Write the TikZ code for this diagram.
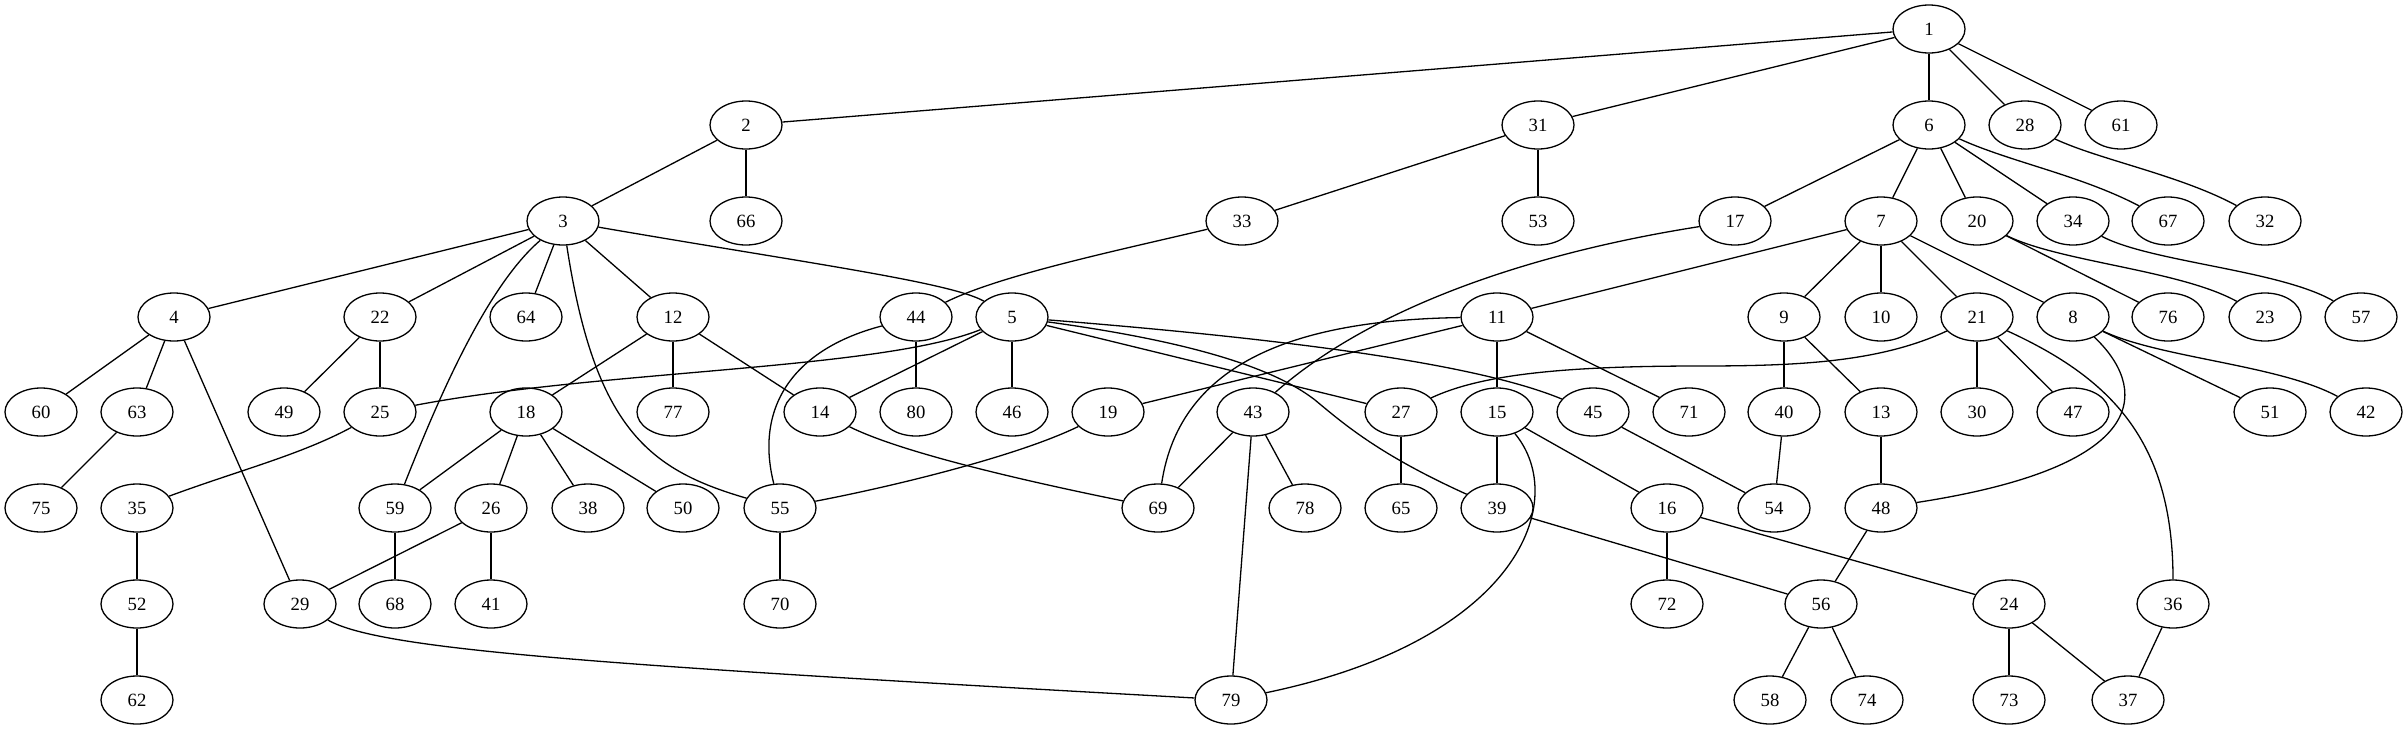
\documentclass[tikz,border=0pt]{standalone}
\usepackage{fontspec}
\setmainfont{Liberation Serif}
\usetikzlibrary{shapes.geometric}
\tikzset{
  gv/.style={ellipse, draw, line width=1.3pt, minimum width=72pt, minimum height=48pt, inner sep=0pt,
    font=\fontsize{18.7}{20}\selectfont},
  gvedge/.style={line width=1.3pt}
}
\begin{document}
\begin{tikzpicture}[x=1pt,y=-1pt]
\useasboundingbox (0,0) rectangle (2408,731);
\foreach \n/\x/\y in {
 1/1929/29,
 2/746/125, 31/1538/125, 6/1929/125, 28/2025/125, 61/2121/125,
 3/563/221, 66/746/221, 33/1242/221, 53/1538/221, 17/1735/221, 7/1881/221, 20/1977/221, 34/2073/221, 67/2168/221, 32/2265/221,
 4/174/317, 22/380/317, 64/526/317, 12/673/317, 44/916/317, 5/1012/317, 11/1497/317, 9/1784/317, 10/1881/317, 21/1977/317, 8/2073/317, 76/2168/317, 23/2265/317, 57/2361/317,
 60/41/412, 63/137/412, 49/284/412, 25/380/412, 18/526/412, 77/673/412, 14/820/412, 80/916/412, 46/1012/412, 19/1108/412, 43/1253/412, 27/1401/412, 15/1497/412, 45/1593/412, 71/1689/412, 40/1784/412, 13/1881/412, 30/1977/412, 47/2073/412, 51/2270/412, 42/2366/412,
 75/41/508, 35/137/508, 59/395/508, 26/491/508, 38/588/508, 50/683/508, 55/780/508, 69/1158/508, 78/1305/508, 65/1401/508, 39/1497/508, 16/1667/508, 54/1774/508, 48/1881/508,
 52/137/604, 29/300/604, 68/395/604, 41/491/604, 70/780/604, 72/1667/604, 56/1821/604, 24/2009/604, 36/2173/604,
 62/137/700, 79/1231/700, 58/1770/700, 74/1867/700, 73/2009/700, 37/2128/700}
 \node[gv] (n\n) at (\x,\y) {\n};
% straight edges
\foreach \a/\b in {1/2, 1/31, 1/6, 1/28, 1/61, 2/3, 2/66, 31/33, 31/53,
 6/17, 6/7, 6/20, 6/34, 3/4, 3/22, 3/64, 3/12,
 7/11, 7/9, 7/10, 7/21, 7/8, 20/76, 4/60, 4/63, 4/29, 22/49, 22/25,
 12/18, 12/77, 12/14, 44/80, 5/14, 5/46, 5/27, 11/19, 11/15, 11/71,
 9/40, 9/13, 21/30, 21/47, 8/51, 63/75, 18/59, 18/26, 18/38, 18/50,
 43/69, 43/78, 43/79, 27/65, 15/39, 15/16, 45/54, 40/54, 13/48,
 35/52, 59/68, 26/29, 26/41, 55/70, 39/56, 16/72, 16/24, 48/56, 52/62,
 56/58, 56/74, 24/73, 24/37, 36/37}
 \draw[gvedge] (n\a) -- (n\b);
% curved edges
\begin{scope}[gvedge]
\draw (n3) .. controls (800,262) and (950,282) .. (n5);
\draw (n3) .. controls (482,290) and (430,420) .. (n59);
\draw (n3) .. controls (595,430) and (650,470) .. (n55);
\draw (n5) .. controls (880,370) and (600,370) .. (n25);
\draw (n44) .. controls (790,350) and (755,410) .. (n55);
\draw (n5) .. controls (1300,340) and (1480,365) .. (n45);
\draw (n5) .. controls (1180,340) and (1270,365) .. (1315,400) .. controls (1345,425) and (1380,455) .. (n39);
\draw (n11) .. controls (1300,320) and (1180,360) .. (n69);
\draw (n17) .. controls (1550,250) and (1380,300) .. (n43);
\draw (n21) .. controls (1880,362) and (1800,366) .. (1700,366) .. controls (1560,366) and (1480,375) .. (n27);
\draw (n8) .. controls (2145,385) and (2160,465) .. (n48);
\draw (n21) .. controls (2110,378) and (2173,440) .. (n36);
\draw (n8) .. controls (2160,358) and (2280,365) .. (n42);
\draw (n20) .. controls (2060,262) and (2180,270) .. (n23);
\draw (n34) .. controls (2150,262) and (2280,270) .. (n57);
\draw (n6) .. controls (2010,162) and (2080,175) .. (n67);
\draw (n28) .. controls (2100,160) and (2180,175) .. (n32);
\draw (n25) .. controls (300,455) and (240,470) .. (n35);
\draw (n29) .. controls (380,650) and (600,665) .. (n79);
\draw (n15) .. controls (1570,500) and (1520,640) .. (n79);
\draw (n14) .. controls (900,452) and (1020,480) .. (n69);
\draw (n19) .. controls (1020,455) and (900,485) .. (n55);
\draw (n33) .. controls (1120,250) and (1000,275) .. (n44);
\end{scope}
\end{tikzpicture}
\end{document}
